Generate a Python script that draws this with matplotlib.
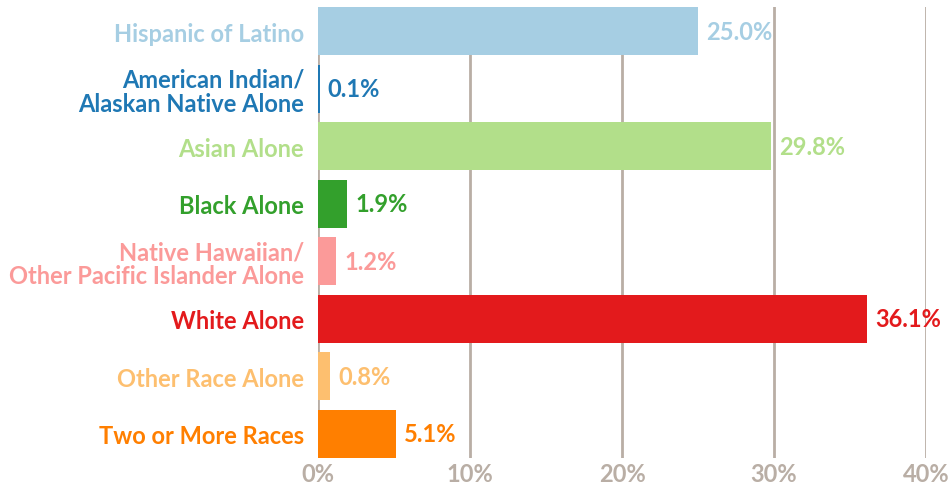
import matplotlib
matplotlib.use("Agg")
import matplotlib.pyplot as plt

categorias = [
    "Hispanic of Latino",
    "American Indian/\nAlaskan Native Alone",
    "Asian Alone",
    "Black Alone",
    "Native Hawaiian/\nOther Pacific Islander Alone",
    "White Alone",
    "Other Race Alone",
    "Two or More Races",
]
valores = [25.0, 0.1, 29.8, 1.9, 1.2, 36.1, 0.8, 5.1]
cores = ["#a6cee3", "#1f78b4", "#b2df8a", "#33a02c",
         "#fb9a99", "#e31a1c", "#fdbf6f", "#ff7f00"]
ticks_x = [0, 10, 20, 30, 40]

cinza = "#b9aea5"
plt.rcParams["font.family"] = ["Lato", "DejaVu Sans"]
plt.rcParams["font.weight"] = "bold"

fig = plt.figure(figsize=(9.53, 4.89), dpi=100)
ax = fig.add_axes([318 / 953, 30 / 489, (926 - 318) / 953, 451 / 489])

pos = list(range(len(categorias)))
barras = ax.barh(pos, valores, height=0.84, color=cores,
                 linewidth=0, zorder=3)

for b, v, c in zip(barras, valores, cores):
    ax.annotate(f"{v:.1f}%", (v, b.get_y() + b.get_height() / 2),
                xytext=(6, 0), textcoords="offset points",
                va="center", ha="left", color=c,
                fontsize=17, fontweight="bold")

ax.set_yticks(pos)
ax.set_yticklabels(categorias, fontsize=17, fontweight="bold",
                   linespacing=1.05)
for lab, c in zip(ax.get_yticklabels(), cores):
    lab.set_color(c)

ax.set_xticks(ticks_x)
ax.set_xticklabels([f"{t}%" for t in ticks_x], fontsize=17,
                   fontweight="bold", color=cinza)
ax.set_xlim(0, 40)
ax.set_ylim(len(categorias) - 1 + 0.42, -0.42)

ax.tick_params(axis="both", length=0)
ax.tick_params(axis="y", pad=10)
ax.tick_params(axis="x", pad=3)
for s in ax.spines.values():
    s.set_visible(False)
ax.grid(axis="x", color=cinza, linewidth=2, zorder=0)
ax.set_axisbelow(True)

fig.savefig("out.png", dpi=100)
